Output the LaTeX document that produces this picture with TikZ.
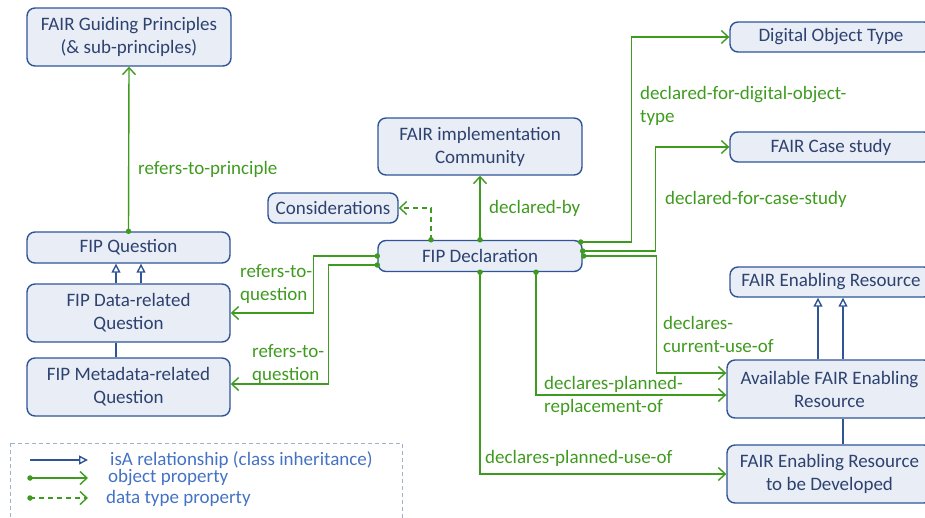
\documentclass[tikz,border=0pt]{standalone}
\usepackage{fontspec}
\setmainfont{Carlito}
\usetikzlibrary{arrows.meta,calc}
\definecolor{bbord}{HTML}{2F5597}
\definecolor{bfill}{HTML}{E8EDF6}
\definecolor{btext}{HTML}{2E4270}
\definecolor{gline}{HTML}{3F9B1F}
\definecolor{ltext}{HTML}{4472C4}
\definecolor{lgbox}{HTML}{9DB3CC}
\begin{document}
\begin{tikzpicture}[x=1pt,y=-1pt,
 box/.style={draw=bbord, fill=bfill, line width=1.4pt, rounded corners=8pt, text=btext, font=\fontsize{19}{23}\selectfont, align=center, inner sep=0pt},
 lbl/.style={text=gline, font=\fontsize{19}{23}\selectfont, align=left, inner sep=0pt, anchor=west},
 leg/.style={text=ltext, font=\fontsize{19}{23}\selectfont, inner sep=0pt, anchor=west},
 objp/.style={draw=gline, line width=1.4pt, arrows={-Straight Barb[length=7pt,width=13pt]}},
 datap/.style={objp, dash pattern=on 5pt off 4pt},
 dotn/.style={circle, fill=gline, draw=none, inner sep=0pt, minimum size=5.5pt},
 isa/.style={draw=bbord, line width=1.4pt, arrows={-Triangle[open,length=9pt,width=9pt,fill=white]}},
 plainl/.style={draw=bbord, line width=1.4pt},
]
\useasboundingbox (0,0) rectangle (925,517);
\clip (0,0) rectangle (925,517);

% nodes
\node[box, minimum width=204pt, minimum height=58pt] (gp) at (129,37) {FAIR Guiding Principles\\(\& sub-principles)};
\node[box, minimum width=203pt, minimum height=31pt] (fq) at (128.5,247.5) {FIP Question};
\node[box, minimum width=203pt, minimum height=58pt] (dq) at (128.5,313) {FIP Data-related\\Question};
\node[box, minimum width=203pt, minimum height=58pt] (mq) at (128.5,387) {FIP Metadata-related\\Question};
\node[box, minimum width=130pt, minimum height=30pt] (cons) at (333,208) {Considerations};
\node[box, minimum width=204pt, minimum height=57pt] (comm) at (480,146.5) {FAIR implementation\\Community};
\node[box, minimum width=204pt, minimum height=31pt] (decl) at (480,256) {FIP Declaration};
\node[box, minimum width=202pt, minimum height=30pt] (dot) at (831,37) {Digital Object Type};
\node[box, minimum width=202pt, minimum height=30pt] (cs) at (831,147) {FAIR Case study};
\node[box, minimum width=202pt, minimum height=30pt] (fer) at (831,282) {FAIR Enabling Resource};
\node[box, minimum width=205pt, minimum height=58pt] (av) at (829.5,389) {Available FAIR Enabling\\Resource};
\node[box, minimum width=205pt, minimum height=58pt] (dev) at (829.5,474) {FAIR Enabling Resource\\to be Developed};

% isA relations (left)
\coordinate (dql) at ([xshift=-12.5pt]dq.north);
\coordinate (dqr) at ([xshift=12.5pt]dq.north);
\draw[isa] (dql) -- (dql |- fq.south);
\draw[isa] (dqr) -- (dqr |- fq.south);
\draw[plainl] ([xshift=-12.5pt]mq.north) -- ([xshift=-12.5pt]dq.south);

% isA relations (right)
\coordinate (avl) at ([xshift=-11.5pt]av.north);
\coordinate (avr) at ([xshift=13.5pt]av.north);
\draw[isa] (avl) -- (avl |- fer.south);
\draw[isa] (avr) -- (avr |- fer.south);
\draw[plainl] ([xshift=13.5pt]dev.north) -- ([xshift=13.5pt]av.south);

% object properties
\draw[objp] (fq.north) node[dotn]{} -- (gp.south);
\draw[objp] (decl.north) node[dotn]{} -- (comm.south);
\draw[datap] ([xshift=-49pt]decl.north) node[dotn]{} |- (cons.east);
\draw[objp] (decl.west) node[dotn]{} -| ([xshift=83pt]dq.east) -- (dq.east);
\draw[objp] ([yshift=-9pt]decl.west) node[dotn]{} -| ([xshift=98pt,yshift=3pt]mq.east) -- ([yshift=3pt]mq.east);
\draw[objp] ([yshift=14pt,xshift=-2pt]decl.east) node[dotn]{} -| ([xshift=-98pt]dot.west) -- (dot.west);
\draw[objp] ([yshift=5pt]decl.east) node[dotn]{} -| ([xshift=-74pt]cs.west) -- (cs.west);
\draw[objp] ([xshift=1pt]decl.east) node[dotn]{} -| ([xshift=-70pt,yshift=16pt]av.west) -- ([yshift=16pt]av.west);
\draw[objp] ([xshift=56pt]decl.south) node[dotn]{} |- ([yshift=-6pt]av.west);
\draw[objp] (decl.south) node[dotn]{} |- (dev.west);

% labels
\node[lbl] (l1) at (138,169) {refers-to-principle};
\node[lbl] (l2) at (489,208) {declared-by};
\node[lbl] (l3) at (640,106) {declared-for-digital-object-\\type};
\node[lbl] (l4) at (665,199) {declared-for-case-study};
\node[lbl] (l5) at (240,284.5) {refers-to-\\question};
\node[lbl] (l6) at (252,364.5) {refers-to-\\question};
\node[lbl] (l7) at (663,334.5) {declares-\\current-use-of};
\node[lbl] (l8) at (544,395.5) {declares-planned-\\replacement-of};
\node[lbl] (l9) at (485,458) {declares-planned-use-of};

% legend
\draw[lgbox, line width=1pt, dash pattern=on 4pt off 3pt] (10,443) rectangle (402,540);
\coordinate (a1) at (30,460); \coordinate (a2) at (88,460);
\coordinate (b1) at (30,478); \coordinate (b2) at (88,478);
\coordinate (c1) at (30,498); \coordinate (c2) at (88,498);
\draw[isa] (a1) -- (a2);
\draw[objp] (b1) node[dotn]{} -- (b2);
\draw[datap] (c1) node[dotn]{} -- (c2);
\node[leg] (t1) at (110,460) {isA relationship (class inheritance)};
\node[leg] (t2) at (108,478) {object property};
\node[leg] (t3) at (106,498) {data type property};
\end{tikzpicture}
\end{document}
